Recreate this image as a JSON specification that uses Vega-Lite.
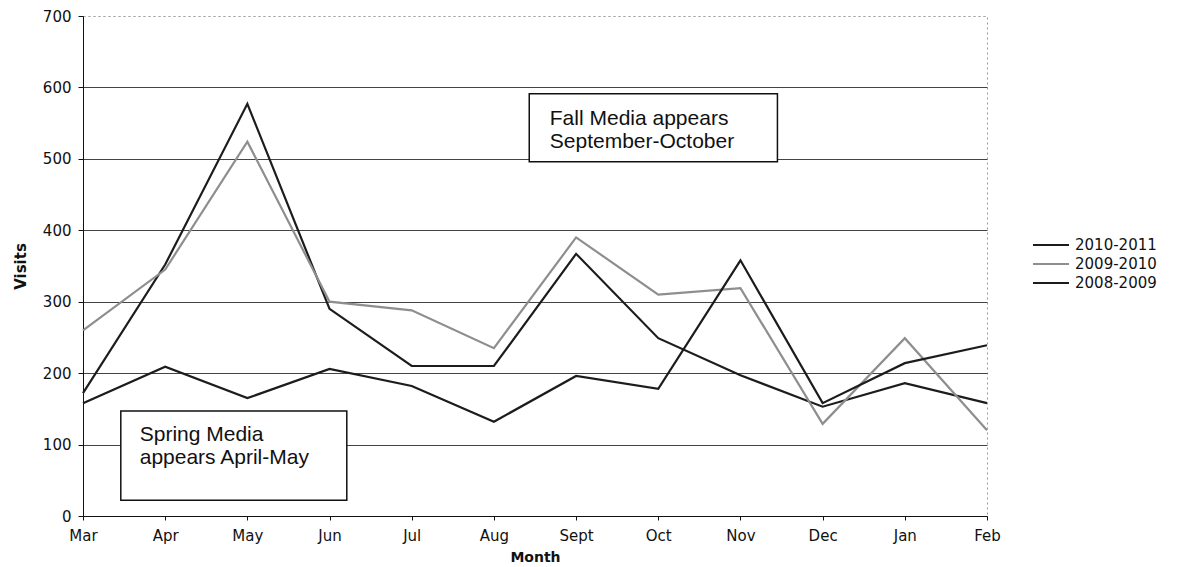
{
  "$schema": "https://vega.github.io/schema/vega-lite/v6.json",
  "width": 904,
  "height": 500,
  "autosize": {"type": "none"},
  "padding": {"left": 83, "top": 16, "right": 190, "bottom": 51},
  "background": "white",
  "config": {
    "view": {"stroke": "#999999", "strokeDash": [2, 3], "strokeWidth": 1},
    "font": "DejaVu Sans",
    "axis": {"labelFont": "DejaVu Sans", "titleFont": "DejaVu Sans", "labelColor": "#111111", "titleColor": "#111111"}
  },
  "datasets": {
    "series": [
      {"season": "2010-2011", "month": "Mar", "idx": 0, "visits": 172},
      {"season": "2010-2011", "month": "Apr", "idx": 1, "visits": 352},
      {"season": "2010-2011", "month": "May", "idx": 2, "visits": 577},
      {"season": "2010-2011", "month": "Jun", "idx": 3, "visits": 290},
      {"season": "2010-2011", "month": "Jul", "idx": 4, "visits": 210},
      {"season": "2010-2011", "month": "Aug", "idx": 5, "visits": 210},
      {"season": "2010-2011", "month": "Sept", "idx": 6, "visits": 367},
      {"season": "2010-2011", "month": "Oct", "idx": 7, "visits": 249},
      {"season": "2010-2011", "month": "Nov", "idx": 8, "visits": 197},
      {"season": "2010-2011", "month": "Dec", "idx": 9, "visits": 153},
      {"season": "2010-2011", "month": "Jan", "idx": 10, "visits": 186},
      {"season": "2010-2011", "month": "Feb", "idx": 11, "visits": 158},
      {"season": "2009-2010", "month": "Mar", "idx": 0, "visits": 260},
      {"season": "2009-2010", "month": "Apr", "idx": 1, "visits": 345},
      {"season": "2009-2010", "month": "May", "idx": 2, "visits": 524},
      {"season": "2009-2010", "month": "Jun", "idx": 3, "visits": 300},
      {"season": "2009-2010", "month": "Jul", "idx": 4, "visits": 288},
      {"season": "2009-2010", "month": "Aug", "idx": 5, "visits": 235},
      {"season": "2009-2010", "month": "Sept", "idx": 6, "visits": 390},
      {"season": "2009-2010", "month": "Oct", "idx": 7, "visits": 310},
      {"season": "2009-2010", "month": "Nov", "idx": 8, "visits": 319},
      {"season": "2009-2010", "month": "Dec", "idx": 9, "visits": 129},
      {"season": "2009-2010", "month": "Jan", "idx": 10, "visits": 249},
      {"season": "2009-2010", "month": "Feb", "idx": 11, "visits": 120},
      {"season": "2008-2009", "month": "Mar", "idx": 0, "visits": 158},
      {"season": "2008-2009", "month": "Apr", "idx": 1, "visits": 209},
      {"season": "2008-2009", "month": "May", "idx": 2, "visits": 165},
      {"season": "2008-2009", "month": "Jun", "idx": 3, "visits": 206},
      {"season": "2008-2009", "month": "Jul", "idx": 4, "visits": 182},
      {"season": "2008-2009", "month": "Aug", "idx": 5, "visits": 132},
      {"season": "2008-2009", "month": "Sept", "idx": 6, "visits": 196},
      {"season": "2008-2009", "month": "Oct", "idx": 7, "visits": 178},
      {"season": "2008-2009", "month": "Nov", "idx": 8, "visits": 358},
      {"season": "2008-2009", "month": "Dec", "idx": 9, "visits": 158},
      {"season": "2008-2009", "month": "Jan", "idx": 10, "visits": 214},
      {"season": "2008-2009", "month": "Feb", "idx": 11, "visits": 239}
    ],
    "notes": [
      {"note": "spring", "x1": 0.46, "x2": 3.21, "y1": 22, "y2": 147, "tx": 0.69, "ty": 105, "label": ["Spring Media", "appears April-May"]},
      {"note": "fall", "x1": 5.43, "x2": 8.45, "y1": 496, "y2": 591, "tx": 5.68, "ty": 547, "label": ["Fall Media appears", "September-October"]}
    ]
  },
  "layer": [
    {
      "data": {"name": "series"},
      "mark": {"type": "line", "strokeWidth": 2.2},
      "encoding": {
        "x": {
          "field": "idx", "type": "quantitative", "title": "Month",
          "scale": {"domain": [0, 11], "nice": false, "zero": false},
          "axis": {
            "values": [0, 1, 2, 3, 4, 5, 6, 7, 8, 9, 10, 11],
            "labelExpr": "['Mar','Apr','May','Jun','Jul','Aug','Sept','Oct','Nov','Dec','Jan','Feb'][datum.value]",
            "grid": false, "domainColor": "#111111", "tickColor": "#111111", "tickSize": 4,
            "labelFontSize": 15, "labelPadding": 8, "labelFlush": false,
            "titleFontSize": 14, "titleFontWeight": "bold", "titleY": 34, "titleBaseline": "top"
          }
        },
        "y": {
          "field": "visits", "type": "quantitative", "title": "Visits",
          "scale": {"domain": [0, 700], "nice": false},
          "axis": {
            "values": [0, 100, 200, 300, 400, 500, 600, 700],
            "grid": true,
            "gridColor": {"condition": {"test": "datum.value === 700", "value": "#aaaaaa"}, "value": "#444444"},
            "gridDash": {"condition": {"test": "datum.value === 700", "value": [2, 3]}, "value": []},
            "gridWidth": 1,
            "domainColor": "#111111", "tickColor": "#111111", "tickSize": 5,
            "labelFontSize": 15, "labelPadding": 7,
            "titleFontSize": 15, "titleFontWeight": "bold", "titleX": -55, "titleY": 250
          }
        },
        "color": {
          "field": "season", "type": "nominal", "title": null,
          "scale": {"domain": ["2010-2011", "2009-2010", "2008-2009"], "range": ["#1c1c1c", "#8e8e8e", "#1c1c1c"]},
          "legend": {
            "orient": "none", "legendX": 959, "legendY": 220, "padding": 0,
            "symbolType": "M-2.25,0H2.25", "symbolSize": 256, "symbolStrokeWidth": 2,
            "labelFontSize": 15, "labelFont": "DejaVu Sans", "labelColor": "#111111",
            "labelOffset": 15, "rowPadding": 2
          }
        },
        "order": {"field": "idx", "type": "quantitative"}
      }
    },
    {
      "data": {"name": "notes"},
      "mark": {"type": "rect", "fill": "white", "stroke": "#111111", "strokeWidth": 1.5},
      "encoding": {
        "x": {"field": "x1", "type": "quantitative", "title": "Month"},
        "x2": {"field": "x2"},
        "y": {"field": "y1", "type": "quantitative", "title": "Visits"},
        "y2": {"field": "y2"}
      }
    },
    {
      "data": {"name": "notes"},
      "mark": {"type": "text", "align": "left", "baseline": "alphabetic", "font": "Liberation Sans", "fontSize": 21, "lineHeight": 23, "color": "#111111"},
      "encoding": {
        "x": {"field": "tx", "type": "quantitative", "title": "Month"},
        "y": {"field": "ty", "type": "quantitative", "title": "Visits"},
        "text": {"field": "label"}
      }
    }
  ]
}
